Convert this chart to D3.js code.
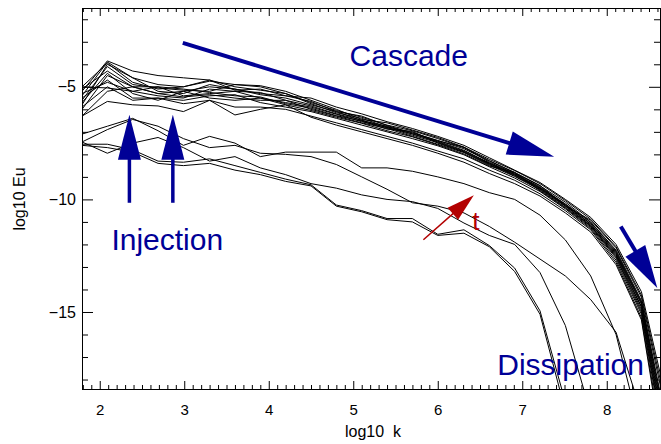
<!DOCTYPE html>
<html><head><meta charset="utf-8">
<script src="https://cdn.jsdelivr.net/npm/d3@7"></script>
<style>html,body{margin:0;padding:0;background:#fff;} svg{display:block;}</style>
</head><body>
<svg id="chart" width="661" height="444"></svg>
<script>
// log10 k grid (factor-2 shells)
const logK = [1.79, 2.09, 2.39, 2.69, 2.99, 3.30, 3.60, 3.90, 4.20, 4.50, 4.80, 5.10,
              5.40, 5.70, 6.00, 6.31, 6.61, 6.91, 7.21, 7.51, 7.81, 8.11, 8.41, 8.71];

// late-time spectra (the cascade bundle), log10 Eu
const spec01 = [-5.2, -3.85, -4.3, -4.5, -4.6, -4.7, -5.15, -5.1, -5.4, -5.5, -5.9, -6.2, -6.55, -6.85, -7.2, -7.6, -8.15, -8.7, -9.25, -10.0, -10.8, -12.0, -14.1, -19.0];
const spec02 = [-5.4, -3.9, -4.6, -4.9, -5.0, -4.75, -4.9, -4.95, -5.2, -5.6, -6.0, -6.45, -6.6, -6.92, -7.25, -7.68, -8.22, -8.72, -9.3, -10.05, -10.88, -12.1, -14.25, -19.3];
const spec03 = [-5.0, -3.95, -4.8, -5.1, -5.0, -4.7, -5.0, -5.15, -5.3, -5.7, -6.05, -6.35, -6.7, -6.95, -7.3, -7.7, -8.28, -8.8, -9.38, -10.3, -10.92, -12.15, -14.35, -19.6];
const spec04 = [-5.8, -4.0, -4.6, -5.2, -5.3, -4.9, -5.1, -5.3, -5.4, -5.65, -6.1, -6.3, -6.72, -7.05, -7.38, -7.75, -8.3, -8.82, -9.4, -10.12, -11.0, -12.25, -14.5, -20.0];
const spec05 = [-5.6, -4.1, -4.9, -5.05, -5.15, -5.2, -4.9, -5.0, -5.3, -5.75, -6.15, -6.4, -6.78, -7.02, -7.4, -7.68, -8.35, -8.85, -9.45, -10.2, -11.02, -12.3, -14.55, -20.2];
const spec06 = [-5.1, -4.3, -5.0, -5.3, -5.2, -5.0, -5.1, -5.35, -5.5, -5.8, -6.1, -6.5, -6.75, -7.1, -7.42, -7.82, -8.38, -8.88, -9.48, -10.22, -11.08, -12.35, -14.6, -20.4];
const spec07 = [-6.0, -4.5, -5.0, -5.0, -5.4, -5.3, -5.2, -5.25, -5.6, -5.85, -6.2, -6.48, -6.82, -7.08, -7.45, -7.85, -8.4, -8.9, -9.5, -10.25, -11.1, -12.4, -14.65, -20.6];
const spec08 = [-5.3, -4.8, -5.2, -5.4, -5.5, -5.1, -5.2, -5.5, -5.7, -5.9, -6.22, -6.55, -6.8, -7.15, -7.48, -7.88, -8.42, -8.92, -9.52, -10.28, -11.15, -12.45, -14.75, -20.8];
const spec09 = [-5.0, -5.05, -5.2, -5.0, -5.1, -5.25, -5.4, -5.45, -5.75, -5.95, -6.28, -6.52, -6.88, -6.98, -7.5, -7.9, -8.45, -8.95, -9.55, -10.3, -11.18, -12.5, -14.8, -21.0];
const spec10 = [-6.3, -5.2, -5.0, -5.3, -5.45, -5.35, -5.5, -5.6, -5.6, -6.0, -6.3, -6.6, -6.85, -7.2, -7.55, -7.92, -8.48, -8.98, -9.58, -10.35, -11.2, -12.55, -14.9, -21.2];
const spec11 = [-5.7, -4.4, -5.3, -5.6, -5.2, -5.5, -5.6, -5.5, -5.8, -6.05, -6.35, -6.62, -6.95, -7.22, -7.58, -7.98, -8.52, -8.8, -9.62, -10.38, -11.25, -12.6, -15.0, -21.4];
const spec12 = [-5.5, -4.7, -5.5, -5.5, -5.6, -5.4, -5.35, -5.7, -5.9, -6.1, -6.4, -6.7, -7.0, -7.3, -7.62, -8.02, -8.55, -9.05, -9.65, -10.42, -11.3, -12.7, -15.1, -21.6];
const spec13 = [-5.9, -5.0, -5.6, -5.5, -5.75, -5.6, -5.9, -5.9, -6.0, -6.3, -6.6, -6.9, -7.2, -7.5, -7.85, -8.2, -8.7, -9.15, -9.75, -10.5, -11.35, -12.8, -15.25, -22.0];
const spec14 = [-6.3, -5.65, -5.8, -5.85, -6.1, -5.6, -6.25, -6.0, -5.8, -6.35, -6.7, -7.0, -7.3, -7.6, -7.95, -8.35, -8.85, -9.3, -9.85, -10.6, -11.45, -12.9, -15.35, -22.3];

// early-time spectra (below the bundle)
const spec15 = [-7.1, -6.75, -6.4, -6.95, -7.6, -7.2, -7.5, -8.1, -7.9, -7.9, -7.9, -8.6, -8.6, -8.75, -9.0, -9.3, -9.7, -10.0, -10.7, -11.8, -13.4, -16.0, -20.5, -25];
const spec16 = [-7.45, -6.9, -6.45, -6.75, -7.3, -7.7, -7.6, -7.95, -8.0, -8.1, -8.45, -9.0, -9.55, -10.15, -10.3, -10.6, -11.2, -11.9, -12.65, -13.4, -14.45, -15.9, -19.5, -24];
const spec17 = [-7.45, -7.95, -7.5, -7.25, -7.7, -8.3, -8.1, -8.6, -8.9, -9.3, -9.5, -9.8, -10.0, -10.1, -10.4, -11.05, -11.6, -12.0, -13.25, -15.6, -19.5, -24];
const spec18 = [-7.55, -7.55, -7.8, -8.3, -8.35, -8.2, -8.5, -8.8, -9.1, -9.35, -10.25, -10.5, -10.85, -10.85, -11.55, -11.35, -12.05, -13.05, -14.95, -19.0, -24];
const spec19 = [-7.6, -7.7, -7.9, -8.4, -8.5, -8.4, -8.7, -8.9, -9.2, -9.4, -10.3, -10.55, -10.9, -11.0, -11.6, -11.5, -12.1, -13.2, -15.1, -19.4, -24];

const spectra = [spec01, spec02, spec03, spec04, spec05, spec06, spec07, spec08, spec09, spec10,
                 spec11, spec12, spec13, spec14, spec15, spec16, spec17, spec18, spec19];

// axes
const xTicks = [2, 3, 4, 5, 6, 7, 8];
const yTicks = [-15, -10, -5];
const xLabel = "log10  k";
const yLabel = "log10 Eu";

// annotations (data coordinates)
const labels = [
  {text: "Cascade",     x: 4.956, y: -4.07,  color: "#000096", size: 30},
  {text: "Injection",   x: 2.138, y: -12.23, color: "#000096", size: 30},
  {text: "Dissipation", x: 6.704, y: -17.78, color: "#000096", size: 30},
  {text: "t",           x: 6.409, y: -11.37, color: "#b30000", size: 26}
];
const arrows = [
  {from: [2.983, -3.05],  to: [7.378, -8.11],  head: 47, half: 12,   width: 4,   color: "#000096"},
  {from: [2.351, -10.15], to: [2.351, -6.245], head: 45, half: 11.5, width: 3.5, color: "#000096"},
  {from: [2.865, -10.15], to: [2.865, -6.245], head: 45, half: 11.5, width: 3.5, color: "#000096"},
  {from: [8.166, -11.2],  to: [8.598, -13.93], head: 43, half: 11.5, width: 4,   color: "#000096"},
  {from: [5.830, -11.79], to: [6.427, -9.815], head: 28, half: 8,    width: 1.5, color: "#b30000"}
];

const font = "'Liberation Sans', Arial, Helvetica, sans-serif";
const plot = {left: 82, top: 8, right: 660, bottom: 389};
const x = d3.scaleLinear().domain([1.79, 8.63]).range([plot.left, plot.right]);
const y = d3.scaleLinear().domain([-18.42, -1.5]).range([plot.bottom, plot.top]);

const svg = d3.select("#chart");
svg.append("defs").append("clipPath").attr("id", "clip")
  .append("rect").attr("x", plot.left).attr("y", plot.top)
  .attr("width", plot.right - plot.left + 1).attr("height", plot.bottom - plot.top + 1);

const line = d3.line().x((d, i) => x(logK[i])).y(d => y(d));
svg.append("g").attr("clip-path", "url(#clip)")
  .selectAll("path").data(spectra).join("path")
  .attr("d", line).attr("fill", "none").attr("stroke", "#000").attr("stroke-width", 1);

// frame
svg.append("rect").attr("x", plot.left + 0.5).attr("y", plot.top + 0.5)
  .attr("width", plot.right - plot.left).attr("height", plot.bottom - plot.top)
  .attr("fill", "none").attr("stroke", "#000").attr("stroke-width", 1);

const xMinor = d3.range(18, 87).map(v => v / 10).filter(v => !xTicks.includes(v));
const yMinor = d3.range(-18, -1).filter(v => !yTicks.includes(v));
const fmt = d => (d < 0 ? "\u2212" : "") + Math.abs(d);

function styleAxis(g, size) {
  g.select(".domain").remove();
  g.attr("font-family", font).attr("font-size", size);
  g.selectAll("line").attr("stroke", "#000");
  g.selectAll("text").attr("fill", "#000");
}
// bottom
svg.append("g").attr("transform", `translate(0,${plot.bottom})`)
  .call(d3.axisBottom(x).tickValues(xTicks).tickSizeInner(-8).tickSizeOuter(0).tickPadding(15).tickFormat(d3.format("d")))
  .call(g => styleAxis(g, 15));
svg.append("g").attr("transform", `translate(0,${plot.bottom})`)
  .call(d3.axisBottom(x).tickValues(xMinor).tickSizeInner(-4).tickSizeOuter(0).tickFormat(""))
  .call(g => styleAxis(g, 15));
// top
svg.append("g").attr("transform", `translate(0,${plot.top})`)
  .call(d3.axisTop(x).tickValues(xTicks).tickSizeInner(-8).tickSizeOuter(0).tickFormat(""))
  .call(g => styleAxis(g, 15));
svg.append("g").attr("transform", `translate(0,${plot.top})`)
  .call(d3.axisTop(x).tickValues(xMinor).tickSizeInner(-4).tickSizeOuter(0).tickFormat(""))
  .call(g => styleAxis(g, 15));
// left
svg.append("g").attr("transform", `translate(${plot.left},0)`)
  .call(d3.axisLeft(y).tickValues(yTicks).tickSizeInner(-11).tickSizeOuter(0).tickPadding(6).tickFormat(fmt))
  .call(g => styleAxis(g, 16));
svg.append("g").attr("transform", `translate(${plot.left},0)`)
  .call(d3.axisLeft(y).tickValues(yMinor).tickSizeInner(-6).tickSizeOuter(0).tickFormat(""))
  .call(g => styleAxis(g, 16));
// right
svg.append("g").attr("transform", `translate(${plot.right},0)`)
  .call(d3.axisRight(y).tickValues(yTicks).tickSizeInner(-11).tickSizeOuter(0).tickFormat(""))
  .call(g => styleAxis(g, 16));
svg.append("g").attr("transform", `translate(${plot.right},0)`)
  .call(d3.axisRight(y).tickValues(yMinor).tickSizeInner(-6).tickSizeOuter(0).tickFormat(""))
  .call(g => styleAxis(g, 16));

// axis titles
svg.append("text").attr("x", 373).attr("y", 437).attr("text-anchor", "middle")
  .attr("font-family", font).attr("font-size", 16).style("white-space", "pre").text(xLabel);
svg.append("text").attr("transform", "translate(25,199) rotate(-90)").attr("text-anchor", "middle")
  .attr("font-family", font).attr("font-size", 16).text(yLabel);

// annotations
const ann = svg.append("g");
arrows.forEach(a => {
  const x0 = x(a.from[0]), y0 = y(a.from[1]), x1 = x(a.to[0]), y1 = y(a.to[1]);
  const dx = x1 - x0, dy = y1 - y0, L = Math.hypot(dx, dy), ux = dx / L, uy = dy / L;
  const bx = x1 - ux * a.head, by = y1 - uy * a.head;
  ann.append("line").attr("x1", x0).attr("y1", y0).attr("x2", bx + ux).attr("y2", by + uy)
    .attr("stroke", a.color).attr("stroke-width", a.width);
  ann.append("path")
    .attr("d", `M${x1},${y1}L${bx - uy * a.half},${by + ux * a.half}L${bx + uy * a.half},${by - ux * a.half}Z`)
    .attr("fill", a.color);
});
ann.selectAll("text.lab").data(labels).join("text").attr("class", "lab")
  .attr("x", d => x(d.x)).attr("y", d => y(d.y))
  .attr("font-family", font).attr("font-size", d => d.size).attr("fill", d => d.color)
  .text(d => d.text);
</script>
</body></html>
